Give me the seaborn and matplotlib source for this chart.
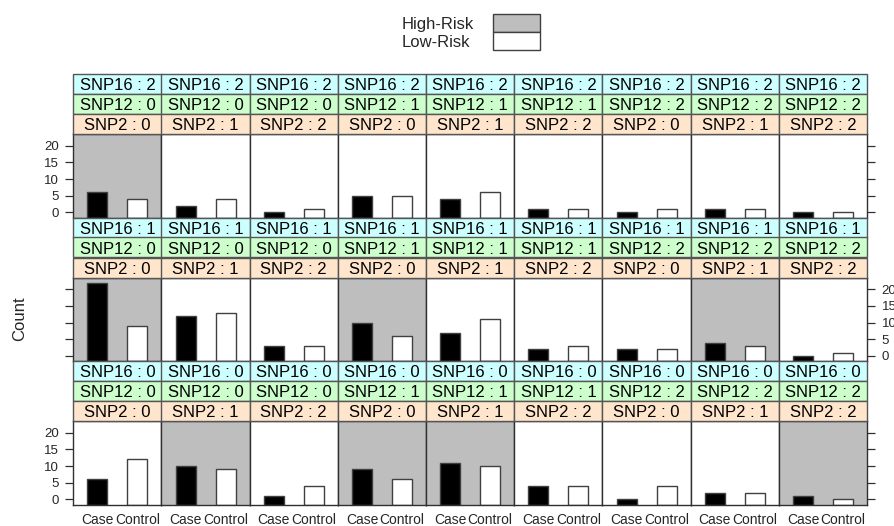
import matplotlib
matplotlib.use("Agg")
import matplotlib.pyplot as plt
from matplotlib.patches import Rectangle
import seaborn as sns
import pandas as pd

sns.set_style("white")
plt.rcParams['font.family'] = ['Liberation Sans', 'DejaVu Sans']

# ---- data ----
groups = ["Case", "Control"]
snp16_rows = [2, 1, 0]                     # top -> bottom
snp12_cols = [0, 0, 0, 1, 1, 1, 2, 2, 2]
snp2_cols = [0, 1, 2, 0, 1, 2, 0, 1, 2]
case_counts = [
    [6, 2, 0, 5, 4, 1, 0, 1, 0],
    [22, 12, 3, 10, 7, 2, 2, 4, 0],
    [6, 10, 1, 9, 11, 4, 0, 2, 1],
]
control_counts = [
    [4, 4, 1, 5, 6, 1, 1, 1, 0],
    [9, 13, 3, 6, 11, 3, 2, 3, 1],
    [12, 9, 4, 6, 10, 4, 4, 2, 0],
]
high_risk = [
    [1, 0, 0, 0, 0, 0, 0, 0, 0],
    [1, 0, 0, 1, 0, 0, 0, 1, 0],
    [0, 1, 0, 1, 1, 0, 0, 0, 1],
]
y_ticks = [0, 5, 10, 15, 20]
legend_labels = ["High-Risk", "Low-Risk"]

# ---- layout ----
W, H = 895, 526
fig = plt.figure(figsize=(W / 100, H / 100), dpi=100)


def fx(px):
    return px / W


def fy(py):
    return 1 - py / H


col_left0, col_w = 73.3, 88.2
row_top0, strip_h, panel_h, period = 74, 20, 83.5, 143.5
ymax = max(max(max(r) for r in case_counts), max(max(r) for r in control_counts))
ylim = (-0.07 * ymax, ymax * 1.07)

HIGH_BG = "#BEBEBE"
EDGE = "#404040"
strip_colors = ["#CCFFFF", "#CCFFCC", "#FFE5CC"]

for r in range(3):
    for c in range(9):
        x0 = col_left0 + c * col_w
        st = row_top0 + r * period
        ptop = st + 3 * strip_h
        ax = fig.add_axes([fx(x0), fy(ptop + panel_h), col_w / W, panel_h / H])
        df = pd.DataFrame({"group": groups,
                           "count": [case_counts[r][c], control_counts[r][c]]})
        sns.barplot(data=df, x="group", y="count", hue="group", order=groups,
                    palette={"Case": "black", "Control": "white"}, legend=False,
                    errorbar=None, width=0.5, edgecolor=EDGE, linewidth=1.0, ax=ax)
        for p in ax.patches:
            h = p.get_height()
            p.set_y(ylim[0])
            p.set_height(h - ylim[0])
        ax.set_ylim(*ylim)
        ax.set_xlim(-0.6, 1.6)
        ax.set_facecolor(HIGH_BG if high_risk[r][c] else "white")
        ax.set_xlabel("")
        ax.set_ylabel("")
        for s in ax.spines.values():
            s.set_color("#303030")
            s.set_linewidth(1.0)
        ax.set_yticks(y_ticks)
        ax.set_yticklabels([str(t) for t in y_ticks])
        left_lab = (r != 1)
        ax.tick_params(axis="y", which="both", direction="out", length=5.5, width=0.9,
                       color="#303030", left=(c == 0), right=(c == 8),
                       labelleft=(c == 0 and left_lab),
                       labelright=(c == 8 and not left_lab),
                       labelsize=9.5, pad=5)
        if r == 2:
            ax.tick_params(axis="x", length=0, labelsize=10, pad=6)
        else:
            ax.set_xticklabels([])
            ax.tick_params(axis="x", length=0)

        labels = [f"SNP16 : {snp16_rows[r]}", f"SNP12 : {snp12_cols[c]}",
                  f"SNP2 : {snp2_cols[c]}"]
        for k in range(3):
            yt = st + k * strip_h
            rect = Rectangle((fx(x0), fy(yt + strip_h)), col_w / W, strip_h / H,
                             transform=fig.transFigure, facecolor=strip_colors[k],
                             edgecolor="#555555", linewidth=1.0)
            fig.add_artist(rect)
            fig.text(fx(x0 + col_w / 2), fy(yt + 16), labels[k], ha="center",
                     va="baseline", fontsize=12, color="black")

fig.text(fx(20), fy(319), "Count", rotation=90, ha="center", va="center",
         fontsize=12)

# legend
lx0, lx1 = 492.7, 540.3
for i, (lab, col) in enumerate(zip(legend_labels, [HIGH_BG, "white"])):
    y0 = 14 + i * 18
    rect = Rectangle((fx(lx0), fy(y0 + 18)), (lx1 - lx0) / W, 18 / H,
                     transform=fig.transFigure, facecolor=col, edgecolor="#404040",
                     linewidth=1.0)
    fig.add_artist(rect)
    fig.text(fx(402), fy(y0 + 15), lab, ha="left", va="baseline", fontsize=12)

fig.savefig("out.png", dpi=100)
